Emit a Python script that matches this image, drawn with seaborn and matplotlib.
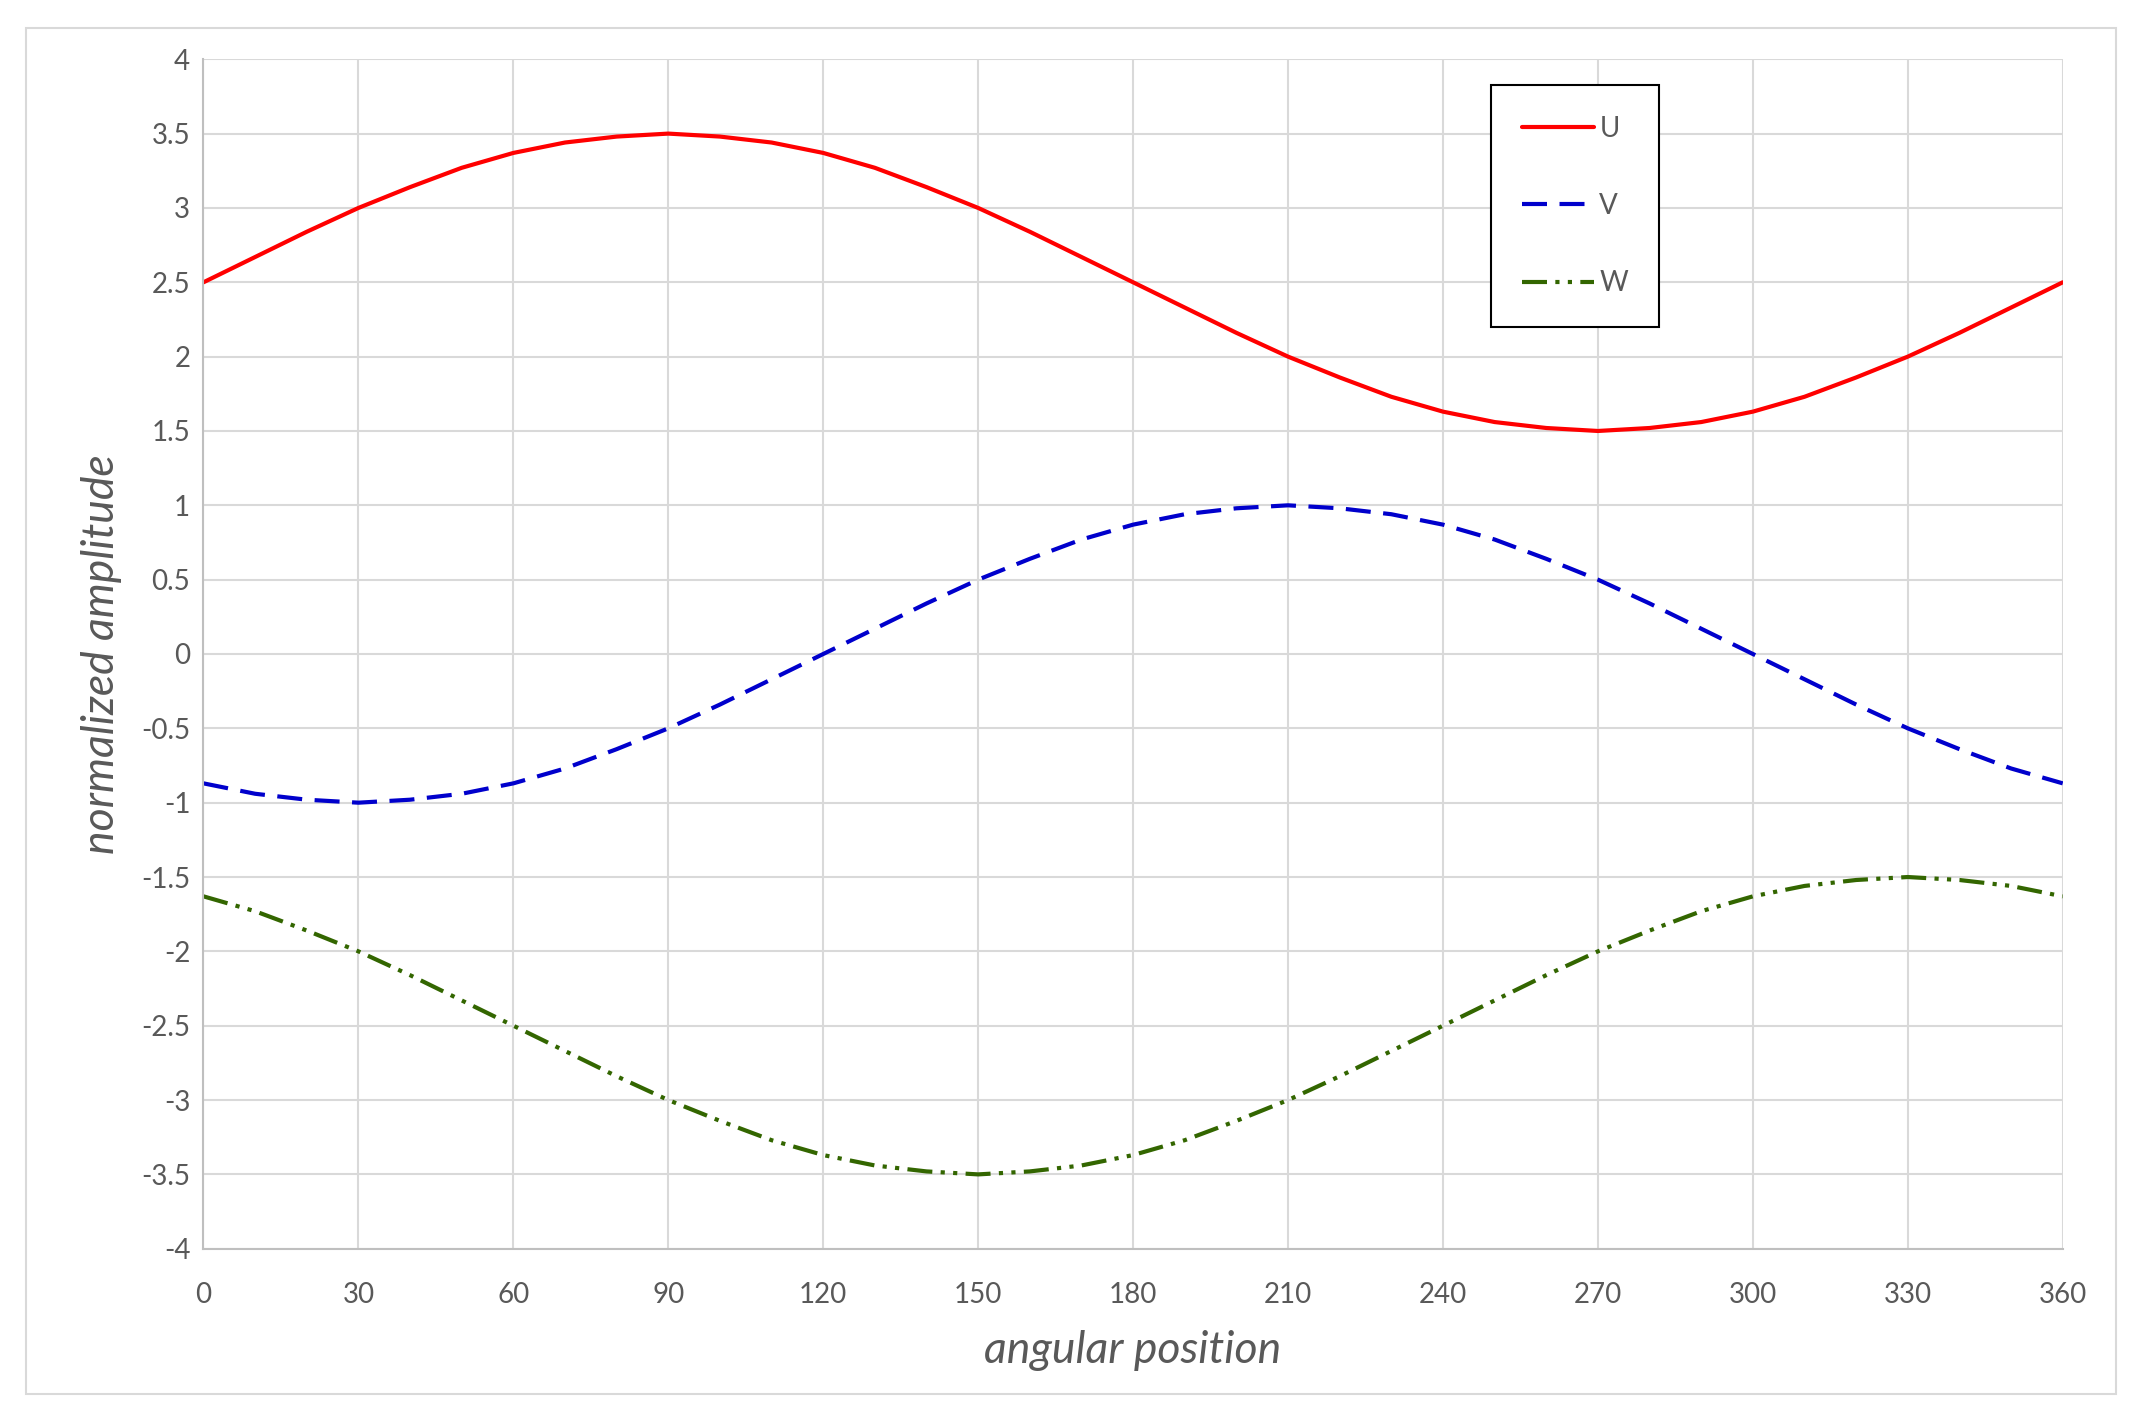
import matplotlib
matplotlib.use('Agg')
import matplotlib.pyplot as plt
import seaborn as sns
import pandas as pd
from matplotlib.patches import Rectangle

angle = list(range(0, 361, 10))
u_vals = [2.5, 2.67, 2.84, 3.0, 3.14, 3.27, 3.37, 3.44, 3.48, 3.5, 3.48, 3.44, 3.37,
          3.27, 3.14, 3.0, 2.84, 2.67, 2.5, 2.33, 2.16, 2.0, 1.86, 1.73, 1.63, 1.56,
          1.52, 1.5, 1.52, 1.56, 1.63, 1.73, 1.86, 2.0, 2.16, 2.33, 2.5]
v_vals = [-0.87, -0.94, -0.98, -1.0, -0.98, -0.94, -0.87, -0.77, -0.64, -0.5, -0.34,
          -0.17, 0.0, 0.17, 0.34, 0.5, 0.64, 0.77, 0.87, 0.94, 0.98, 1.0, 0.98, 0.94,
          0.87, 0.77, 0.64, 0.5, 0.34, 0.17, 0.0, -0.17, -0.34, -0.5, -0.64, -0.77, -0.87]
w_vals = [-1.63, -1.73, -1.86, -2.0, -2.16, -2.33, -2.5, -2.67, -2.84, -3.0, -3.14,
          -3.27, -3.37, -3.44, -3.48, -3.5, -3.48, -3.44, -3.37, -3.27, -3.14, -3.0,
          -2.84, -2.67, -2.5, -2.33, -2.16, -2.0, -1.86, -1.73, -1.63, -1.56, -1.52,
          -1.5, -1.52, -1.56, -1.63]

sns.set_style('white')
plt.rcParams['font.family'] = ['Lato', 'DejaVu Sans']
grey = '#595959'

fig = plt.figure(figsize=(21.42, 14.11), dpi=100)
ax = fig.add_axes([0.095, 0.115, 0.873 - 0.005, 0.843])

df = pd.DataFrame({'angle': angle, 'U': u_vals, 'V': v_vals, 'W': w_vals})
sns.lineplot(df, x='angle', y='U', color='#ff0000', lw=3, ax=ax, label='U')
sns.lineplot(df, x='angle', y='V', color='#0000cc', lw=3, ax=ax, label='V',
             dashes=False, linestyle=(0, (6, 3)))
sns.lineplot(df, x='angle', y='W', color='#336600', lw=3, ax=ax, label='W',
             linestyle=(0, (6, 2, 1, 2, 1, 2)))

ax.set_xlim(0, 360)
ax.set_ylim(-4, 4)
ax.set_xticks(range(0, 361, 30))
ax.set_yticks([i / 2 for i in range(-8, 9)])
ax.set_yticklabels([f'{i / 2:g}' for i in range(-8, 9)])
ax.grid(True, color='#d9d9d9', lw=1.5)
for s in ['top', 'right']:
    ax.spines[s].set_visible(False)
for s in ['left', 'bottom']:
    ax.spines[s].set_color('#bfbfbf')
    ax.spines[s].set_linewidth(1.5)
ax.tick_params(axis='both', labelsize=20, colors=grey, length=6, color='#bfbfbf')
ax.tick_params(axis='x', pad=18)
ax.set_xlabel('angular position', fontsize=32, style='italic', color=grey, labelpad=16)
ax.set_ylabel('normalized amplitude', fontsize=32, style='italic', color=grey, labelpad=14)

leg = ax.legend(loc='upper left', bbox_to_anchor=(0.685, 0.99), fontsize=20,
                handlelength=2.6, labelspacing=1.85, borderpad=1.1, fancybox=False,
                framealpha=1, edgecolor='black', handletextpad=0.2)
leg.get_frame().set_linewidth(1.5)
for t in leg.get_texts():
    t.set_color(grey)

fig.patches.append(Rectangle((0.012, 0.012), 0.976, 0.968, transform=fig.transFigure,
                             fill=False, edgecolor='#d9d9d9', lw=1.5))

fig.savefig('out.png', dpi=100)
